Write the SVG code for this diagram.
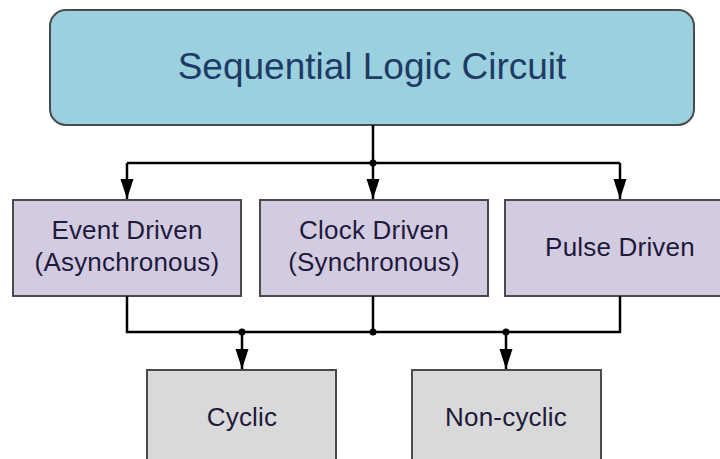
<svg xmlns="http://www.w3.org/2000/svg" width="720" height="459" viewBox="0 0 720 459">
  <style>
    .box { stroke: #4a4a4a; stroke-width: 2; }
    .root { fill: #9bd1de; }
    .kind { fill: #d3cce1; }
    .form { fill: #d9d9d9; }
    .lbl { font-family: "Liberation Sans", Arial, sans-serif; font-size: 26px; fill: #1e1a3c; text-anchor: middle; letter-spacing: 0.2px; }
    .title { font-family: "Liberation Sans", Arial, sans-serif; font-size: 37px; fill: #1f3a66; text-anchor: middle; }
    .wire { stroke: #000; stroke-width: 2.5; fill: none; }
    .dot { fill: #000; }
  </style>
  <defs>
    <marker id="arrow" markerUnits="userSpaceOnUse" markerWidth="22" markerHeight="14" refX="20" refY="6.5" orient="auto">
      <path d="M0,0 L20,6.5 L0,13 Z" fill="#000"/>
    </marker>
  </defs>

  <g id="sequential-logic-circuit">
    <rect class="box root" x="50" y="10" width="644" height="115" rx="16" ry="16"/>
    <text class="title" x="372" y="79">Sequential Logic Circuit</text>
  </g>

  <g id="event-driven">
    <rect class="box kind" x="13" y="200" width="228" height="96"/>
    <text class="lbl" x="127" y="239">Event Driven</text>
    <text class="lbl" x="127" y="271">(Asynchronous)</text>
  </g>

  <g id="clock-driven">
    <rect class="box kind" x="260" y="200" width="228" height="96"/>
    <text class="lbl" x="374" y="239">Clock Driven</text>
    <text class="lbl" x="374" y="271">(Synchronous)</text>
  </g>

  <g id="pulse-driven">
    <rect class="box kind" x="505" y="200" width="230" height="96"/>
    <text class="lbl" x="620" y="256">Pulse Driven</text>
  </g>

  <g id="cyclic">
    <rect class="box form" x="147" y="370" width="189" height="110"/>
    <text class="lbl" x="242" y="426">Cyclic</text>
  </g>

  <g id="non-cyclic">
    <rect class="box form" x="412" y="370" width="189" height="110"/>
    <text class="lbl" x="506" y="426">Non-cyclic</text>
  </g>

  <g id="connectors">
    <!-- fan-out from the root -->
    <path class="wire" d="M373,125 V163"/>
    <path class="wire" d="M127,163 H620"/>
    <path class="wire" d="M127,163 V199" marker-end="url(#arrow)"/>
    <path class="wire" d="M373,163 V199" marker-end="url(#arrow)"/>
    <path class="wire" d="M620,163 V199" marker-end="url(#arrow)"/>
    <circle class="dot" cx="373" cy="163" r="3.5"/>

    <!-- merge bus below the three drive types -->
    <path class="wire" d="M127,296 V332 H620 V296"/>
    <path class="wire" d="M373,296 V332"/>
    <circle class="dot" cx="373" cy="332" r="3.5"/>
    <circle class="dot" cx="242" cy="332" r="3.5"/>
    <circle class="dot" cx="506" cy="332" r="3.5"/>
    <path class="wire" d="M242,332 V369" marker-end="url(#arrow)"/>
    <path class="wire" d="M506,332 V369" marker-end="url(#arrow)"/>
  </g>
</svg>
